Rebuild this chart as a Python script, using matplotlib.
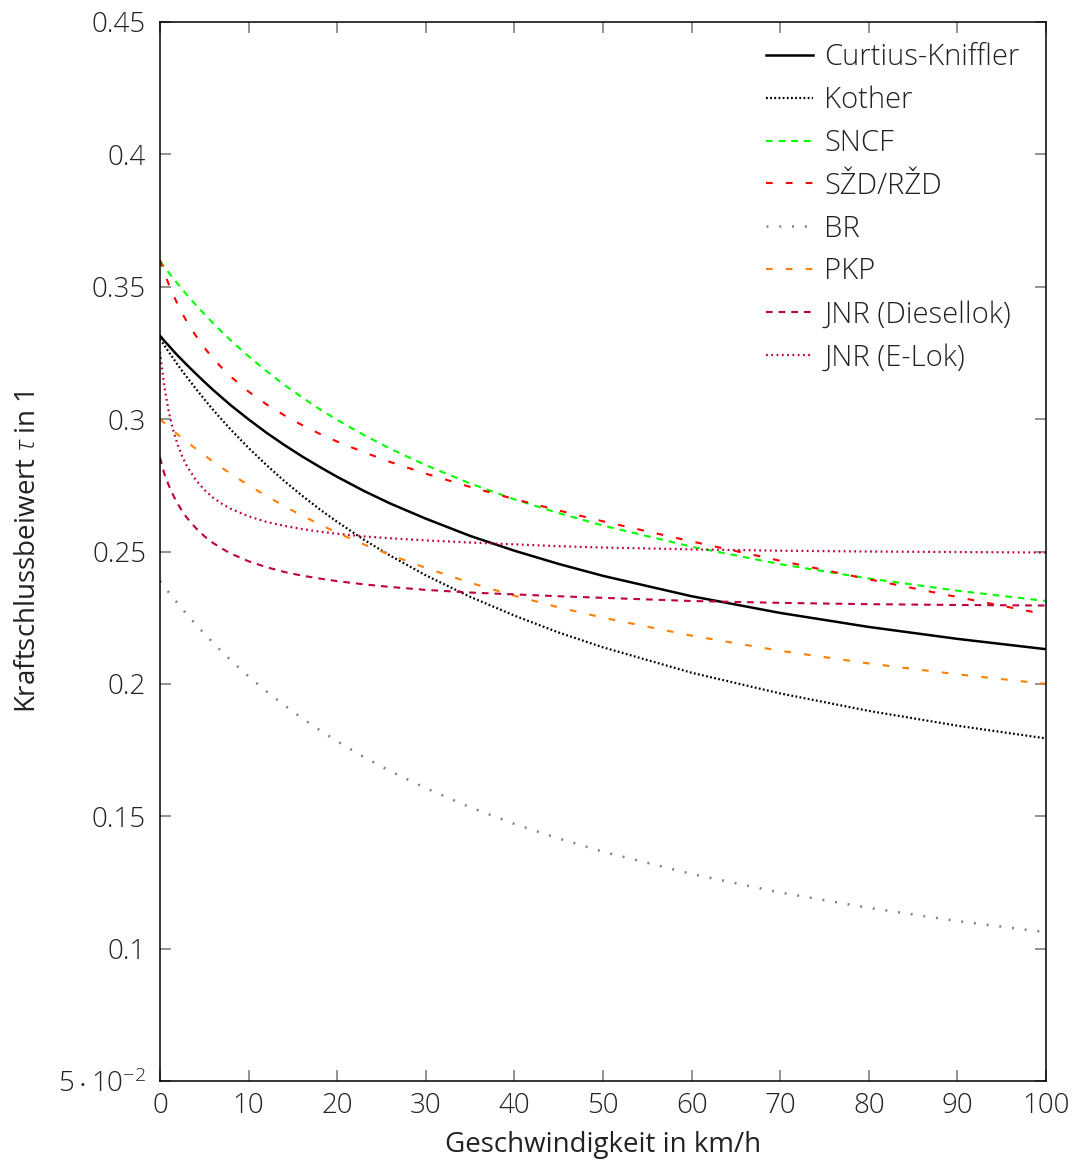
import matplotlib
matplotlib.use('Agg')
import matplotlib.pyplot as plt
from matplotlib.ticker import FixedLocator, FixedFormatter

plt.rcParams['font.family'] = ['Open Sans', 'DejaVu Sans']
plt.rcParams['font.weight'] = 'light'
plt.rcParams['mathtext.fontset'] = 'custom'
plt.rcParams['mathtext.rm'] = 'Open Sans:light'
plt.rcParams['mathtext.it'] = 'Open Sans:italic:light'
plt.rcParams['lines.scale_dashes'] = False

# speed in km/h (denser near 0 where the curves bend hardest)
v = [0, 0.5, 1, 1.5, 2, 2.5, 3, 4, 5, 6, 7, 8, 10, 12, 14, 16, 18, 20, 23, 26,
     30, 35, 40, 45, 50, 60, 70, 80, 90, 100]

# values
curtius = [0.3315, 0.3295, 0.3277, 0.3258, 0.3240, 0.3223, 0.3206, 0.3173, 0.3141, 0.3110,
           0.3081, 0.3052, 0.2999, 0.2949, 0.2903, 0.2860, 0.2820, 0.2782, 0.2729, 0.2681,
           0.2624, 0.2559, 0.2503, 0.2453, 0.2408, 0.2331, 0.2268, 0.2215, 0.2170, 0.2131]
kother = [0.3303, 0.3278, 0.3253, 0.3229, 0.3205, 0.3182, 0.3160, 0.3117, 0.3075, 0.3035,
          0.2997, 0.2960, 0.2891, 0.2827, 0.2767, 0.2712, 0.2660, 0.2612, 0.2545, 0.2484,
          0.2410, 0.2329, 0.2258, 0.2194, 0.2138, 0.2042, 0.1964, 0.1898, 0.1842, 0.1794]
sncf = [0.3597, 0.3575, 0.3553, 0.3532, 0.3511, 0.3491, 0.3471, 0.3433, 0.3397, 0.3362,
        0.3329, 0.3297, 0.3237, 0.3182, 0.3130, 0.3083, 0.3038, 0.2997, 0.2940, 0.2888,
        0.2826, 0.2757, 0.2697, 0.2645, 0.2598, 0.2518, 0.2452, 0.2398, 0.2352, 0.2313]
szd = [0.3600, 0.3552, 0.3508, 0.3469, 0.3433, 0.3400, 0.3370, 0.3317, 0.3270, 0.3229,
       0.3193, 0.3160, 0.3104, 0.3056, 0.3015, 0.2978, 0.2945, 0.2915, 0.2875, 0.2838,
       0.2794, 0.2744, 0.2698, 0.2655, 0.2614, 0.2538, 0.2465, 0.2395, 0.2328, 0.2262]
br = [0.2389, 0.2367, 0.2345, 0.2324, 0.2304, 0.2284, 0.2264, 0.2226, 0.2190, 0.2155,
      0.2121, 0.2089, 0.2028, 0.1972, 0.1920, 0.1871, 0.1826, 0.1783, 0.1724, 0.1670,
      0.1606, 0.1534, 0.1471, 0.1416, 0.1366, 0.1282, 0.1212, 0.1154, 0.1104, 0.1062]
pkp = [0.3000, 0.2985, 0.2971, 0.2956, 0.2942, 0.2929, 0.2915, 0.2889, 0.2864, 0.2839,
       0.2816, 0.2793, 0.2750, 0.2710, 0.2672, 0.2636, 0.2603, 0.2571, 0.2527, 0.2487,
       0.2438, 0.2382, 0.2333, 0.2289, 0.2250, 0.2182, 0.2125, 0.2077, 0.2036, 0.2000]
jnr_diesel = [0.2855, 0.2792, 0.2749, 0.2712, 0.2680, 0.2653, 0.2629, 0.2590, 0.2558, 0.2532,
              0.2511, 0.2492, 0.2463, 0.2441, 0.2423, 0.2409, 0.2398, 0.2388, 0.2376, 0.2366,
              0.2355, 0.2345, 0.2338, 0.2331, 0.2325, 0.2313, 0.2306, 0.2301, 0.2298, 0.2296]
jnr_elok = [0.3254, 0.3120, 0.3026, 0.2957, 0.2903, 0.2860, 0.2825, 0.2772, 0.2733, 0.2703,
            0.2680, 0.2661, 0.2633, 0.2612, 0.2597, 0.2585, 0.2575, 0.2567, 0.2557, 0.2550,
            0.2542, 0.2534, 0.2527, 0.2520, 0.2515, 0.2508, 0.2503, 0.2500, 0.2498, 0.2496]

yticks = [0.05, 0.1, 0.15, 0.2, 0.25, 0.3, 0.35, 0.4, 0.45]
ytick_labels = [r'$5\cdot10^{-2}$', '0.1', '0.15', '0.2', '0.25', '0.3', '0.35', '0.4', '0.45']
xticks = list(range(0, 101, 10))

fig = plt.figure(figsize=(10.74, 11.62), dpi=100)
ax = fig.add_axes([160/1074, 1 - 1081/1162, 886/1074, 1059/1162])

purple = '#bf0040'
ax.plot(v, curtius, color='black', lw=1.8, label='Curtius-Kniffler')
ax.plot(v, kother, color='black', lw=1.6, linestyle=(0, (1.3, 1.7)), label='Kother')
ax.plot(v, sncf, color='#00ff00', lw=1.5, linestyle=(0, (4.8, 4.3)), label='SNCF')
ax.plot(v, szd, color='#ff0000', lw=1.5, linestyle=(0, (4.8, 9.5)), label='SŽD/RŽD')
ax.plot(v, br, color='#808080', lw=1.8, linestyle=(0, (1.4, 7.8)), label='BR')
ax.plot(v, pkp, color='#ff8000', lw=1.5, linestyle=(0, (4.8, 9.5)), label='PKP')
ax.plot(v, jnr_diesel, color=purple, lw=1.5, linestyle=(0, (4.8, 4.3)), label='JNR (Diesellok)')
ax.plot(v, jnr_elok, color=purple, lw=1.6, linestyle=(0, (1.3, 2.5)), label='JNR (E-Lok)')

ax.set_xlim(0, 100)
ax.set_ylim(0.05, 0.45)
ax.xaxis.set_major_locator(FixedLocator(xticks))
ax.yaxis.set_major_locator(FixedLocator(yticks))
ax.yaxis.set_major_formatter(FixedFormatter(ytick_labels))
ax.tick_params(direction='in', length=8, width=1.2, color='#808080',
               top=True, right=True, labelsize=20, labelcolor='#222222')
ax.tick_params(axis='y', pad=10)
ax.tick_params(axis='x', pad=8)
for s in ax.spines.values():
    s.set_linewidth(1.1)

ax.set_xlabel('Geschwindigkeit in km/h', fontsize=20, color='#222222', labelpad=8)
ax.set_ylabel(r'Kraftschlussbeiwert $\tau$ in 1', fontsize=20, color='#222222', labelpad=12)

ax.legend(loc='upper right', bbox_to_anchor=(0.9932, 1.0), frameon=False, fontsize=21,
          handlelength=1.6, handletextpad=0.4, labelspacing=0.46, borderaxespad=0.3,
          labelcolor='#222222')

fig.savefig('out.png', dpi=100)
